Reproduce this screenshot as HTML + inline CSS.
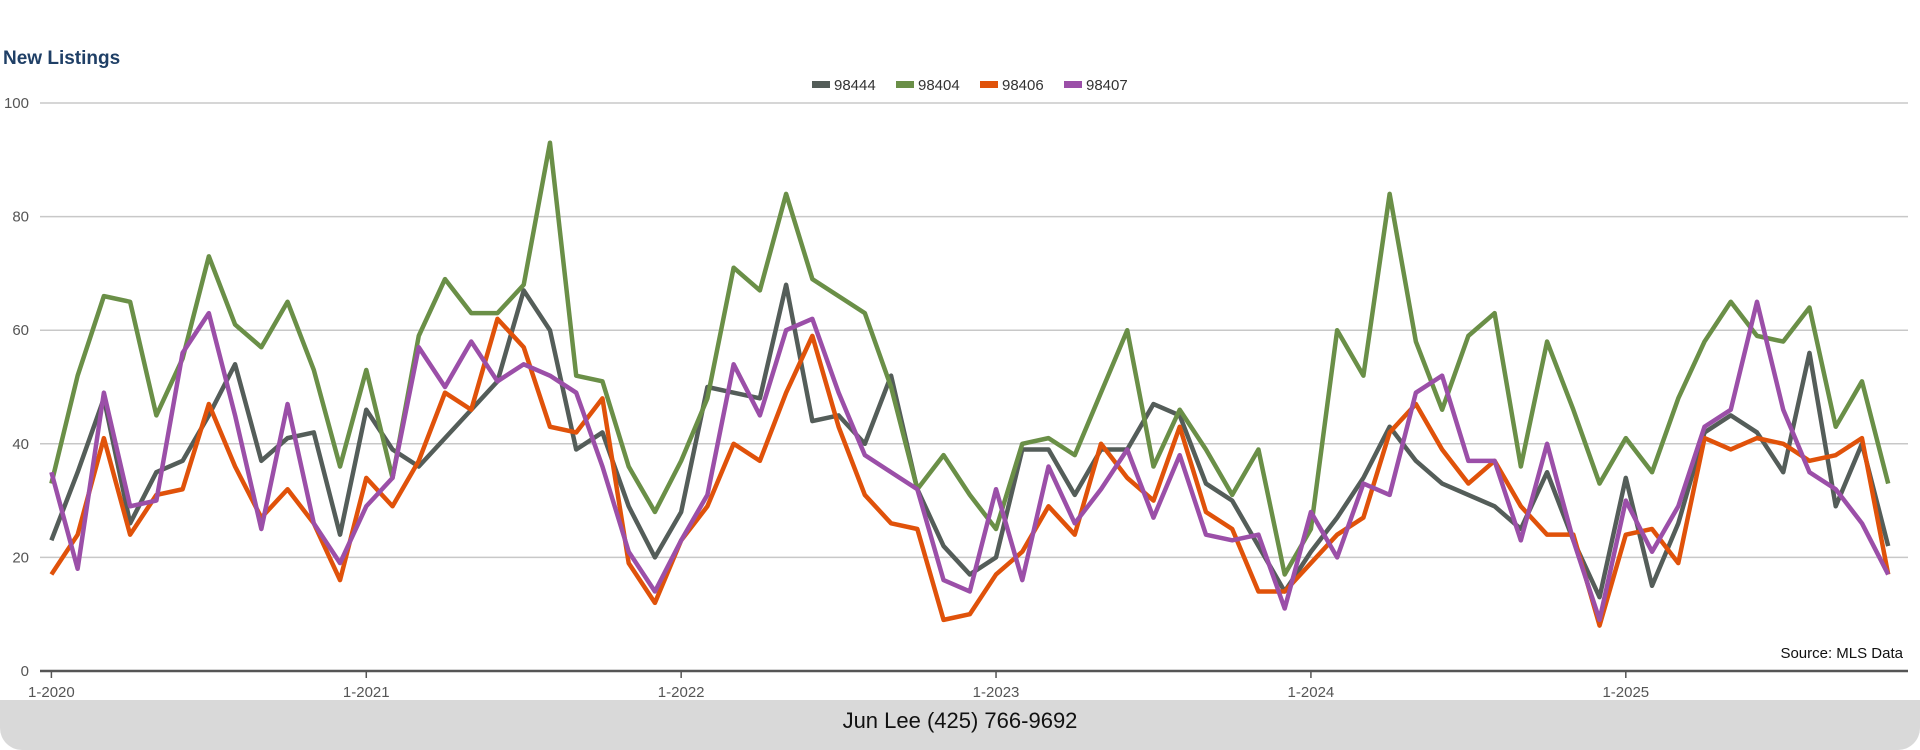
<!DOCTYPE html>
<html><head><meta charset="utf-8"><style>
body{margin:0;width:1920px;height:750px;background:#fff;overflow:hidden;font-family:"Liberation Sans",sans-serif}
#footer{position:absolute;left:0;top:700px;width:1920px;height:50px;background:#d9d9d9;border-radius:0 0 22px 22px;text-align:center;line-height:42px;font-size:22px;color:#111}
</style></head><body>
<svg id="chart" width="1920" height="750" style="position:absolute;left:0;top:0" font-family="Liberation Sans, sans-serif"></svg>
<div id="footer">Jun Lee (425) 766-9692</div>
<script>
const zips=["98444","98404","98406","98407"];
const colors=["#545d59","#6a8f47","#e0520a","#9b4fa8"];
const s98444=[23,35,48,26,35,37,45,54,37,41,42,24,46,39,36,41,46,51,67,60,39,42,29,20,28,50,49,48,68,44,45,40,52,32,22,17,20,39,39,31,39,39,47,45,33,30,22,14,21,27,34,43,37,33,31,29,25,35,23,13,34,15,26,42,45,42,35,56,29,40,22];
const s98404=[33,52,66,65,45,55,73,61,57,65,53,36,53,34,59,69,63,63,68,93,52,51,36,28,37,48,71,67,84,69,66,63,50,32,38,31,25,40,41,38,49,60,36,46,39,31,39,17,25,60,52,84,58,46,59,63,36,58,46,33,41,35,48,58,65,59,58,64,43,51,33];
const s98406=[17,24,41,24,31,32,47,36,27,32,26,16,34,29,37,49,46,62,57,43,42,48,19,12,23,29,40,37,49,59,43,31,26,25,9,10,17,21,29,24,40,34,30,43,28,25,14,14,19,24,27,42,47,39,33,37,29,24,24,8,24,25,19,41,39,41,40,37,38,41,17];
const s98407=[35,18,49,29,30,56,63,45,25,47,26,19,29,34,57,50,58,51,54,52,49,36,21,14,23,31,54,45,60,62,49,38,35,32,16,14,32,16,36,26,32,39,27,38,24,23,24,11,28,20,33,31,49,52,37,37,23,40,23,9,30,21,29,43,46,65,46,35,32,26,17];
const yTicks=[0,20,40,60,80,100];
const xTickLabels=["1-2020","1-2021","1-2022","1-2023","1-2024","1-2025"];
const series=[s98444,s98404,s98406,s98407];
const NS="http://www.w3.org/2000/svg",svg=document.getElementById('chart');
const X=i=>51.4+i*26.24, Y=v=>671-v*5.68;
function mk(t,a,p){const e=document.createElementNS(NS,t);for(const k in a)e.setAttribute(k,a[k]);(p||svg).appendChild(e);return e;}
let t=mk('text',{x:3,y:64,'font-size':19,'font-weight':'bold',fill:'#1f3f66'});t.textContent='New Listings';


yTicks.forEach(v=>{
 const l=mk('line',{x1:40,x2:1908,y1:Y(v),y2:Y(v),stroke:v?'#c8c8c8':'#555',"stroke-width":v?1.5:2.5});
 
 
 const tx=mk('text',{x:29,y:Y(v)+5,'text-anchor':'end','font-size':15,fill:'#555'});tx.textContent=v;
 
 
});
xTickLabels.forEach((s,k)=>{
 const x=X(k*12);
 const l=mk('line',{x1:x,x2:x,y1:671,y2:678,stroke:'#555','stroke-width':1.5});
 
 
 const tx=mk('text',{x:x,y:697,'text-anchor':'middle','font-size':15,fill:'#555'});tx.textContent=s;
 
 
});
series.forEach((d,k)=>{
 const p=mk('polyline',{points:d.map((v,i)=>X(i)+','+Y(v)).join(' '),fill:'none',stroke:colors[k],'stroke-width':4.5,'stroke-linejoin':'round'});
 
 
});
let lx=812;
zips.forEach((z,k)=>{
 const g=mk('g',{});
 
 
 mk('rect',{x:lx,y:81,width:18,height:7,fill:colors[k]},g);
 const tx=mk('text',{x:lx+22,y:90,'font-size':15,fill:'#333'},g);tx.textContent=z;
 lx+=84;
});
t=mk('text',{x:1903,y:658,'text-anchor':'end','font-size':15,fill:'#111'});t.textContent='Source: MLS Data';


</script>
</body></html>
